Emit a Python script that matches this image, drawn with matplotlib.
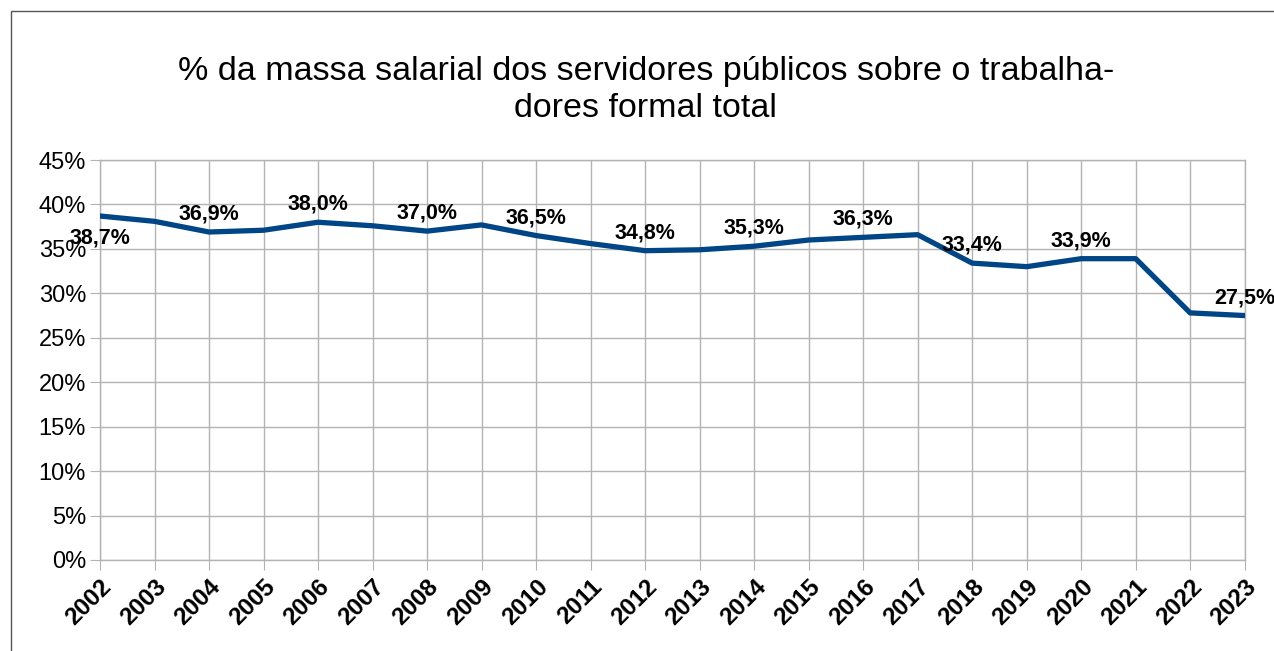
import matplotlib.pyplot as plt
from matplotlib.patches import Rectangle

plt.rcParams['font.family'] = ['Liberation Sans', 'DejaVu Sans']

years = list(range(2002, 2024))
values = [38.7, 38.1, 36.9, 37.1, 38.0, 37.6, 37.0, 37.7, 36.5, 35.6, 34.8,
          34.9, 35.3, 36.0, 36.3, 36.6, 33.4, 33.0, 33.9, 33.9, 27.8, 27.5]
labelled = [2002, 2004, 2006, 2008, 2010, 2012, 2014, 2016, 2018, 2020, 2023]
title = '% da massa salarial dos servidores públicos sobre o trabalha-\ndores formal total'

fig = plt.figure(figsize=(12.74, 6.51), dpi=100)
ax = fig.add_axes([0.0785, 0.1398, 0.8985, 0.6144])

ax.plot(years, values, color='#004586', linewidth=3.8, solid_joinstyle='round', zorder=3)

for y, v in zip(years, values):
    if y not in labelled:
        continue
    txt = f'{v:.1f}%'.replace('.', ',')
    off = -16 if y == 2002 else 13
    ax.annotate(txt, (y, v), xytext=(0, off), textcoords='offset points',
                ha='center', va='center', fontsize=15.5, fontweight='bold', zorder=4)

ax.set_xlim(2002, 2023)
ax.set_ylim(0, 45)
ax.set_xticks(years)
ax.set_xticklabels([str(y) for y in years], rotation=45, ha='right',
                   rotation_mode='anchor', fontsize=17.5, fontweight='bold')
ax.set_yticks(range(0, 46, 5))
ax.set_yticklabels([f'{t}%' for t in range(0, 46, 5)], fontsize=17)
ax.grid(True, color='#b3b3b3', linewidth=1)
ax.set_axisbelow(True)
ax.tick_params(axis='x', length=7, color='#b3b3b3', pad=4)
ax.tick_params(axis='y', length=7, color='#b3b3b3', pad=3)
for s in ax.spines.values():
    s.set_color('#b3b3b3')
    s.set_linewidth(1)

fig.text(0.507, 0.862, title, ha='center', va='center', fontsize=24.5, linespacing=1.25)

# outer frame of the chart
fig.patches.append(Rectangle((11 / 1274, -0.1), 1.2, 1 - 11 / 651 + 0.1,
                             transform=fig.transFigure, fill=False,
                             edgecolor='#555555', linewidth=1))

fig.savefig('out.png', dpi=100)
